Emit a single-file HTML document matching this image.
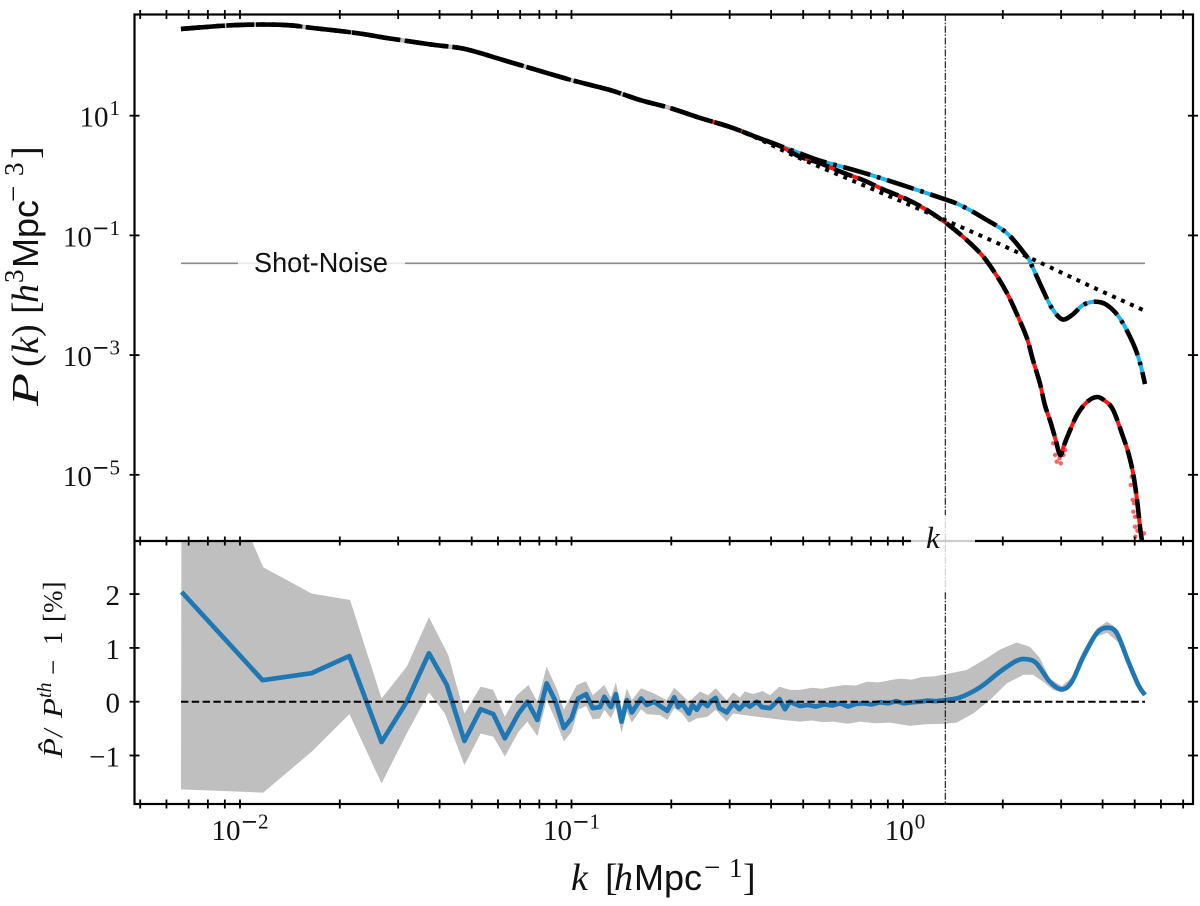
<!DOCTYPE html>
<html lang="en">
<head>
<meta charset="utf-8">
<title>Power spectrum</title>
<style>
html,body{margin:0;padding:0;background:#fff;}
svg{display:block;}
text{fill:#111;font-family:"Liberation Serif",serif;}
.sans{font-family:"Liberation Sans",sans-serif;}
.it{font-style:italic;}
</style>
</head>
<body>
<svg id="chart" xmlns="http://www.w3.org/2000/svg" width="1200" height="906" viewBox="0 0 1200 906">
  <defs>
    <clipPath id="clipTop"><rect x="134" y="14" width="1059" height="527"/></clipPath>
    <clipPath id="clipBot"><rect x="134" y="541" width="1059" height="263"/></clipPath>
  </defs>
  <g id="bottomMarks" clip-path="url(#clipBot)"></g>
  <g id="topMarks" clip-path="url(#clipTop)"></g>
  <g id="axes"></g>
  <g id="overlay"></g>

  <text class="sans" x="254" y="272" font-size="28" textLength="134" lengthAdjust="spacingAndGlyphs">Shot-Noise</text>
  <text class="it" x="926" y="548" font-size="31">k</text>

  <g transform="translate(38,0) rotate(-90)">
    <text class="it" x="-406" y="0" font-size="38" textLength="33" lengthAdjust="spacingAndGlyphs">P</text>
    <text x="-367" y="0" font-size="38">(</text>
    <text class="it" x="-354" y="0" font-size="38">k</text>
    <text x="-337" y="0" font-size="38">)</text>
    <text x="-314" y="0" font-size="38">[</text>
    <text class="it" x="-303" y="0" font-size="38">h</text>
    <text x="-283" y="-15" font-size="27">3</text>
    <text class="sans" x="-268" y="0" font-size="36">Mpc</text>
    <text x="-202" y="-15" font-size="29" font-family="DejaVu Sans">−</text>
    <text x="-176" y="-15" font-size="27">3</text>
    <text x="-159" y="0" font-size="38">]</text>
  </g>

  <g transform="translate(62,0) rotate(-90)">
    <text class="it" x="-758" y="0" font-size="27" textLength="20" lengthAdjust="spacingAndGlyphs">P̂</text>
    <text class="it" x="-737" y="0" font-size="27">/</text>
    <text class="it" x="-718" y="0" font-size="27" textLength="20" lengthAdjust="spacingAndGlyphs">P</text>
    <text class="it" x="-698" y="-11" font-size="20">th</text>
    <text x="-675" y="0" font-size="27">−</text>
    <text x="-645" y="0" font-size="27">1</text>
    <text x="-622" y="0" font-size="27">[%]</text>
  </g>

  <g>
    <text class="it" x="571" y="890" font-size="38">k</text>
    <text x="605" y="890" font-size="38">[</text>
    <text class="it" x="614" y="890" font-size="38">h</text>
    <text class="sans" x="634" y="890" font-size="36">Mpc</text>
    <text x="704" y="877" font-size="29" font-family="DejaVu Sans">−</text>
    <text x="729" y="877" font-size="27">1</text>
    <text x="743" y="890" font-size="38">]</text>
  </g>
</svg>

<script>
// ---------- chart data (k and P in log10 units, ratio in percent) ----------
const commonLogK = [-2.178,-2.121,-2.030,-1.931,-1.849,-1.780,-1.698,-1.629,-1.563,-1.496,-1.412,-1.336,-1.276,-1.207,-1.125,-1.001,-0.884,-0.793,-0.703,-0.612,-0.522,-0.431,-0.371];
const commonLogP = [2.449,2.474,2.510,2.524,2.510,2.465,2.415,2.365,2.303,2.248,2.181,2.131,2.048,1.931,1.797,1.596,1.429,1.262,1.129,0.962,0.811,0.619,0.494];

const upperLogK = [-0.311,-0.250,-0.130,-0.009,0.112,0.172,0.241,0.314,0.374,0.383,0.422,0.449,0.480,0.510,0.543,0.579,0.615,0.654,0.694,0.715,0.730];
const upperLogP = [0.372,0.248,0.064,-0.146,-0.370,-0.492,-0.704,-0.965,-1.356,-1.439,-1.912,-2.213,-2.402,-2.330,-2.163,-2.108,-2.163,-2.385,-2.803,-3.132,-3.483];

const lowerLogK = [-0.311,-0.250,-0.181,-0.121,-0.060,0.012,0.072,0.127,0.181,0.238,0.278,0.314,0.347,0.374,0.392,0.413,0.428,0.443,0.459,0.474,0.486,0.498,0.525,0.555,0.585,0.610,0.634,0.664,0.679,0.694,0.706,0.715,0.721];
const lowerLogP = [0.315,0.205,0.048,-0.074,-0.230,-0.397,-0.576,-0.781,-1.022,-1.328,-1.633,-1.967,-2.358,-2.719,-3.082,-3.471,-3.834,-4.084,-4.385,-4.669,-4.502,-4.335,-4.001,-3.784,-3.700,-3.767,-3.917,-4.368,-4.619,-4.970,-5.421,-5.872,-6.106];

const dottedLogK = [-0.431,-0.311,-0.121,0.051,0.223,0.392,0.558,0.724];
const dottedLogP = [0.600,0.288,-0.158,-0.564,-0.977,-1.399,-1.829,-2.246];

const scatterLogK = [0.472,0.464,0.476,0.484,0.459,0.489,0.453,0.690,0.687,0.693,0.697,0.695,0.700,0.700,0.707,0.727,0.701,0.715];
const scatterLogP = [-4.724,-4.781,-4.808,-4.669,-4.669,-4.586,-4.474,-5.032,-5.170,-5.421,-5.476,-5.617,-5.700,-5.867,-5.934,-5.977,-6.034,-5.894];

const shotNoiseLogP = -1.466;
const shotNoiseLogKRange = [-2.178,0.730];
const nonlinearLogK = 0.1276;

const ratioLogK = [-2.176,-1.932,-1.784,-1.670,-1.573,-1.497,-1.430,-1.376,-1.323,-1.274,-1.236,-1.201,-1.160,-1.133,-1.103,-1.075,-1.050,-1.023,-1.000,-0.980,-0.956,-0.936,-0.914,-0.901,-0.881,-0.866,-0.849,-0.833,-0.818,-0.790,-0.773,-0.751,-0.733,-0.711,-0.690,-0.678,-0.666,-0.646,-0.636,-0.622,-0.607,-0.590,-0.579,-0.565,-0.554,-0.532,-0.512,-0.494,-0.477,-0.462,-0.441,-0.426,-0.401,-0.373,-0.356,-0.341,-0.311,-0.287,-0.262,-0.238,-0.214,-0.190,-0.166,-0.142,-0.118,-0.094,-0.069,-0.045,-0.021,0.003,0.027,0.051,0.075,0.100,0.127,0.172,0.233,0.293,0.343,0.373,0.403,0.443,0.479,0.509,0.544,0.584,0.616,0.645,0.680,0.710,0.730];
const ratioValues = [2.04,0.40,0.53,0.85,-0.75,0,0.90,0.31,-0.73,-0.14,-0.23,-0.68,-0.22,0,-0.34,0.34,0.03,-0.49,-0.31,0.06,0.14,-0.12,-0.10,0.09,-0.10,0.14,-0.37,0.03,-0.20,0.06,-0.06,0,-0.08,-0.17,0.08,-0.10,-0.03,-0.22,-0.06,-0.15,0,-0.08,0.01,0.07,-0.12,-0.20,-0.03,-0.14,-0.03,-0.09,0,-0.10,-0.12,0.05,-0.14,0,-0.08,-0.06,-0.09,-0.05,-0.07,-0.03,-0.09,-0.04,-0.03,-0.05,-0.01,-0.03,0.01,-0.03,-0.01,0,0.02,0.01,0.03,0.08,0.27,0.56,0.76,0.79,0.71,0.37,0.23,0.37,0.84,1.27,1.375,1.27,0.74,0.31,0.125];

const bandUpperLogK = [-2.176,-1.930,-1.784,-1.668,-1.573,-1.497,-1.430,-1.372,-1.323,-1.274,-1.236,-1.201,-1.165,-1.130,-1.103,-1.075,-1.043,-1.023,-0.984,-0.956,-0.936,-0.901,-0.881,-0.866,-0.849,-0.833,-0.818,-0.790,-0.753,-0.713,-0.690,-0.666,-0.646,-0.612,-0.588,-0.565,-0.532,-0.512,-0.492,-0.477,-0.452,-0.424,-0.401,-0.373,-0.341,-0.311,-0.275,-0.244,-0.211,-0.175,-0.142,-0.109,-0.075,-0.039,-0.009,0.027,0.057,0.094,0.127,0.192,0.253,0.293,0.343,0.383,0.413,0.443,0.479,0.509,0.544,0.584,0.616,0.650,0.680,0.710,0.730];
const bandUpper = [6,2.50,2.01,1.89,0.06,0.65,1.57,0.87,-0.22,0.28,0.22,-0.28,0.12,0.31,0,0.65,0.22,-0.15,0.31,0.38,0.12,0.31,0.08,0.36,-0.15,0.25,0.03,0.25,0.16,0.03,0.26,0.12,0,0.19,0.12,0.25,0.03,0.17,0.08,0.19,0.14,0.20,0.12,0.28,0.22,0.22,0.26,0.24,0.28,0.31,0.30,0.37,0.36,0.40,0.43,0.41,0.46,0.47,0.51,0.59,0.81,0.97,1.10,1.02,0.81,0.43,0.29,0.45,0.93,1.36,1.49,1.33,0.84,0.37,0.16];

const bandLowerLogK = [-2.178,-1.930,-1.784,-1.670,-1.573,-1.497,-1.430,-1.382,-1.323,-1.274,-1.236,-1.201,-1.160,-1.133,-1.103,-1.075,-1.050,-1.023,-1.000,-0.980,-0.956,-0.936,-0.914,-0.901,-0.881,-0.866,-0.849,-0.833,-0.818,-0.790,-0.773,-0.733,-0.711,-0.690,-0.666,-0.646,-0.622,-0.590,-0.565,-0.532,-0.512,-0.477,-0.441,-0.401,-0.361,-0.311,-0.275,-0.244,-0.211,-0.166,-0.130,-0.084,-0.039,0.021,0.066,0.127,0.162,0.212,0.262,0.313,0.363,0.392,0.423,0.453,0.479,0.509,0.544,0.584,0.616,0.650,0.680,0.710,0.730];
const bandLower = [-1.63,-1.69,-0.93,-0.23,-1.52,-0.59,0.17,-0.22,-1.18,-0.59,-0.65,-1.02,-0.56,-0.37,-0.64,0.03,-0.31,-0.74,-0.56,-0.15,-0.08,-0.33,-0.31,-0.15,-0.31,-0.10,-0.58,-0.19,-0.39,-0.14,-0.23,-0.25,-0.34,-0.12,-0.22,-0.39,-0.31,-0.28,-0.15,-0.37,-0.22,-0.25,-0.28,-0.31,-0.34,-0.37,-0.35,-0.38,-0.37,-0.41,-0.37,-0.40,-0.39,-0.45,-0.42,-0.41,-0.39,-0.22,0.03,0.34,0.50,0.50,0.37,0.22,0.17,0.29,0.74,1.21,1.28,1.10,0.65,0.25,0.11];

const xMajorExponents = [-2,-1,0];
const xMinorDecades = [-3,-2,-1,0];
const xMinorMultipliers = [2,3,4,5,6,7,8,9];
const xAxisLogRange = [-2.32,0.87];
const yTopExponents = [1,-1,-3,-5];
const yBottomTicks = [2,1,0,-1];

// ---------- axis functions ----------
const FRAME = {left:134.5, right:1193, top:14.5, mid:541, bottom:804};
function xScale(logK){ return 240 + (logK + 2) * 331.5; }
function yTop(logP){ return 115.7 + (1 - logP) * 59.85; }
function yBot(v){ return 701.7 - v * 53.8; }

const NS = 'http://www.w3.org/2000/svg';
function make(parent, tag, attrs){
  const el = document.createElementNS(NS, tag);
  for (const key in attrs) el.setAttribute(key, attrs[key]);
  parent.appendChild(el);
  return el;
}
function polyPath(pts){
  return pts.map((p,i)=>(i?'L':'M')+p[0].toFixed(2)+' '+p[1].toFixed(2)).join('');
}
function smoothPath(pts){
  let d = 'M'+pts[0][0].toFixed(2)+' '+pts[0][1].toFixed(2);
  for (let i=0;i<pts.length-1;i++){
    const p0=pts[Math.max(i-1,0)], p1=pts[i], p2=pts[i+1], p3=pts[Math.min(i+2,pts.length-1)];
    const c1=[p1[0]+(p2[0]-p0[0])/6, p1[1]+(p2[1]-p0[1])/6];
    const c2=[p2[0]-(p3[0]-p1[0])/6, p2[1]-(p3[1]-p1[1])/6];
    d+='C'+c1[0].toFixed(2)+' '+c1[1].toFixed(2)+' '+c2[0].toFixed(2)+' '+c2[1].toFixed(2)+' '+p2[0].toFixed(2)+' '+p2[1].toFixed(2);
  }
  return d;
}
function zipTop(ks, ps){ return ks.map((k,i)=>[xScale(k), yTop(ps[i])]); }
function zipBot(ks, vs){ return ks.map((k,i)=>[xScale(k), yBot(vs[i])]); }

const topG = document.getElementById('topMarks');
const botG = document.getElementById('bottomMarks');
const overlayG = document.getElementById('overlay');
const axesG = document.getElementById('axes');

// ---------- top panel ----------
const upperPts = zipTop(commonLogK.concat(upperLogK), commonLogP.concat(upperLogP));
const lowerPts = zipTop(commonLogK.concat(lowerLogK), commonLogP.concat(lowerLogP));
const dottedBaseK = commonLogK.filter(k => k < dottedLogK[0]);
const dottedPts = zipTop(dottedBaseK.concat(dottedLogK), commonLogP.slice(0, dottedBaseK.length).concat(dottedLogP));
const lowKPts = zipTop(commonLogK.filter(k => k < -0.7), commonLogP.filter((p,i) => commonLogK[i] < -0.7));

const shotLine = make(topG, 'line', {x1:xScale(shotNoiseLogKRange[0]), x2:xScale(shotNoiseLogKRange[1]), y1:yTop(shotNoiseLogP), y2:yTop(shotNoiseLogP), stroke:'#8a8a8a', 'stroke-width':1.6});



const upperColor = make(topG, 'path', {d:smoothPath(upperPts), fill:'none', stroke:'#1cb5ee', 'stroke-width':4});



const lowerColor = make(topG, 'path', {d:smoothPath(lowerPts), fill:'none', stroke:'#ff1414', 'stroke-width':4});



const lowKFade = make(topG, 'path', {d:smoothPath(lowKPts), fill:'none', stroke:'#bcbcbc', 'stroke-width':4.2});



for (let i = 0; i < scatterLogK.length; i++) {
  const dot = make(topG, 'circle', {cx:xScale(scatterLogK[i]), cy:yTop(scatterLogP[i]), r:2.2, fill:'#ff2020', 'fill-opacity':0.7});
  
  
}

const dottedLine = make(topG, 'path', {d:smoothPath(dottedPts), fill:'none', stroke:'#000', 'stroke-width':4, 'stroke-dasharray':'4 5.8'});



const upperDash = make(topG, 'path', {d:smoothPath(upperPts), fill:'none', stroke:'#000', 'stroke-width':4.6, 'stroke-dasharray':'28 7 3.5 7'});



const lowerDash = make(topG, 'path', {d:smoothPath(lowerPts), fill:'none', stroke:'#000', 'stroke-width':4.6, 'stroke-dasharray':'19 6'});



// ---------- bottom panel ----------
const bandPts = zipBot(bandUpperLogK, bandUpper).concat(zipBot(bandLowerLogK, bandLower).reverse());
const band = make(botG, 'path', {d:polyPath(bandPts)+'Z', fill:'#bfbfbf', stroke:'none'});



const ratioPts = zipBot(ratioLogK, ratioValues);
const splitIdx = ratioLogK.findIndex(k => k >= 0.127);
const ratioD = polyPath(ratioPts.slice(0, splitIdx + 1)) + smoothPath(ratioPts.slice(splitIdx)).replace(/^M[^C]*/, '');
const ratioLine = make(botG, 'path', {d:ratioD, fill:'none', stroke:'#1f77b4', 'stroke-width':4.7, 'stroke-linejoin':'round'});



const zeroLine = make(botG, 'line', {x1:xScale(shotNoiseLogKRange[0]), x2:xScale(shotNoiseLogKRange[1]), y1:yBot(0), y2:yBot(0), stroke:'#000', 'stroke-width':2, 'stroke-dasharray':'7.4 3.4'});



// ---------- axes frame ----------
const frame = make(axesG, 'rect', {x:FRAME.left, y:FRAME.top, width:FRAME.right-FRAME.left, height:FRAME.bottom-FRAME.top, fill:'none', stroke:'#000', 'stroke-width':2.2});



const midSpine = make(axesG, 'line', {x1:FRAME.left, x2:FRAME.right, y1:FRAME.mid, y2:FRAME.mid, stroke:'#000', 'stroke-width':2.2});



const xTickLogs = [];
xMajorExponents.forEach(e => xTickLogs.push(e));
xMinorDecades.forEach(d => xMinorMultipliers.forEach(m => {
  const lk = d + Math.log10(m);
  if (lk > xAxisLogRange[0] && lk < xAxisLogRange[1]) xTickLogs.push(lk);
}));
[FRAME.top, FRAME.mid, FRAME.bottom].forEach(yPos => {
  xTickLogs.forEach(lk => {
    const tick = make(axesG, 'line', {x1:xScale(lk), x2:xScale(lk), y1:yPos-4.5, y2:yPos+4.5, stroke:'#000', 'stroke-width':1.8});
    
    
  });
});

[FRAME.left, FRAME.right].forEach(xPos => {
  yTopExponents.forEach(e => {
    const tick = make(axesG, 'line', {x1:xPos-5, x2:xPos+5, y1:yTop(e), y2:yTop(e), stroke:'#000', 'stroke-width':1.8});
    
    
  });
  yBottomTicks.forEach(v => {
    const tick = make(axesG, 'line', {x1:xPos-5, x2:xPos+5, y1:yBot(v), y2:yBot(v), stroke:'#000', 'stroke-width':1.8});
    
    
  });
});

// ---------- tick labels ----------
function powerLabel(x, y, anchor, exponent){
  const label = make(axesG, 'text', {x:x, y:y, 'text-anchor':anchor, 'font-size':29});
  const base = make(label, 'tspan', {});
  base.textContent = '10';
  if (exponent < 0) {
    const minus = make(label, 'tspan', {dy:-11.5, 'font-size':21, 'font-family':'DejaVu Sans'});
    minus.textContent = '−';
    const digit = make(label, 'tspan', {'font-size':21});
    digit.textContent = String(-exponent);
  } else {
    const digit = make(label, 'tspan', {dy:-11.5, dx:1, 'font-size':21});
    digit.textContent = String(exponent);
  }
  return label;
}

xMajorExponents.forEach(e => {
  const label = powerLabel(xScale(e) + (e >= 0 ? 2 : 0), 840, 'middle', e);
  
  
});
yTopExponents.forEach(e => {
  const label = powerLabel(120, yTop(e) + 11, 'end', e);
  
  
});
yBottomTicks.forEach(v => {
  const label = make(axesG, 'text', {x:120, y:yBot(v) + 11, 'text-anchor':'end', 'font-size':29});
  label.textContent = v < 0 ? '−' + (-v) : String(v);
  
  
});

// ---------- annotations, above frame ----------
const vLine = make(overlayG, 'line', {x1:xScale(nonlinearLogK), x2:xScale(nonlinearLogK), y1:14, y2:803, stroke:'#111', 'stroke-width':1.1, 'stroke-dasharray':'7 1.6 1.6 1.6'});



const shotBox = make(overlayG, 'rect', {x:238, y:247, width:167, height:33, fill:'#fff', 'fill-opacity':0.8});



const kBox = make(overlayG, 'rect', {x:911, y:515, width:64, height:77, fill:'#fff', 'fill-opacity':0.8});


</script>
</body>
</html>
